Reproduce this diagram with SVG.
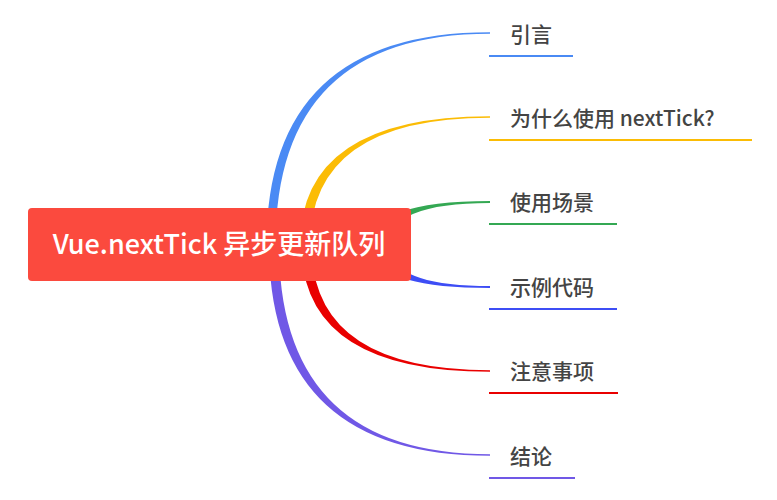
<svg xmlns="http://www.w3.org/2000/svg" width="777" height="500" viewBox="0 0 777 500">
<style>
.leaf{font-family:"Noto Sans CJK SC","Liberation Sans",sans-serif;font-size:21px;font-weight:500;fill:#444}
.root{font-family:"Noto Sans CJK SC","Liberation Sans",sans-serif;font-size:27px;font-weight:500;fill:#fff}
.ul{stroke-width:1.8;fill:none}
</style>
<rect width="777" height="500" fill="#fff"/>
<g id="connectors">
<path d="M266.5,245 Q266.5,32.2 490,32.2 L490,33.8 Q275.5,33.8 275.5,245 Z" fill="#4A8AF4"/>
<path d="M300,245 Q300,116.2 490,116.2 L490,117.8 Q310,117.8 310,245 Z" fill="#FBBC05"/>
<path d="M371,245 Q371,201 490,201 L490,203 Q389,203 389,245 Z" fill="#34A853"/>
<path d="M371,245 Q371,288 490,288 L490,286 Q389,286 389,245 Z" fill="#3D4DF5"/>
<path d="M301.5,245 Q301.5,371.8 490,371.8 L490,370.2 Q311.5,370.2 311.5,245 Z" fill="#E90000"/>
<path d="M269,245 Q269,455.8 490,455.8 L490,454.2 Q279,454.2 279,245 Z" fill="#7058E6"/>
</g>
<g id="root">
<rect x="28" y="208" width="383" height="73" rx="4" fill="#FB4A3E"/>
<text class="root" x="219" y="254" text-anchor="middle">Vue.nextTick 异步更新队列</text>
</g>
<g id="n1">
<text class="leaf" x="510" y="42">引言</text>
<line class="ul" x1="489" y1="56" x2="573" y2="56" stroke="#4A8AF4"/>
</g>
<g id="n2">
<text class="leaf" x="510" y="126">为什么使用 nextTick?</text>
<line class="ul" x1="489" y1="140" x2="752" y2="140" stroke="#FBBC05"/>
</g>
<g id="n3">
<text class="leaf" x="510" y="210">使用场景</text>
<line class="ul" x1="489" y1="224" x2="617" y2="224" stroke="#34A853"/>
</g>
<g id="n4">
<text class="leaf" x="510" y="295">示例代码</text>
<line class="ul" x1="489" y1="309" x2="617" y2="309" stroke="#3D4DF5"/>
</g>
<g id="n5">
<text class="leaf" x="510" y="379">注意事项</text>
<line class="ul" x1="489" y1="393" x2="618" y2="393" stroke="#E90000"/>
</g>
<g id="n6">
<text class="leaf" x="510" y="464">结论</text>
<line class="ul" x1="489" y1="478" x2="575" y2="478" stroke="#7058E6"/>
</g>
</svg>
